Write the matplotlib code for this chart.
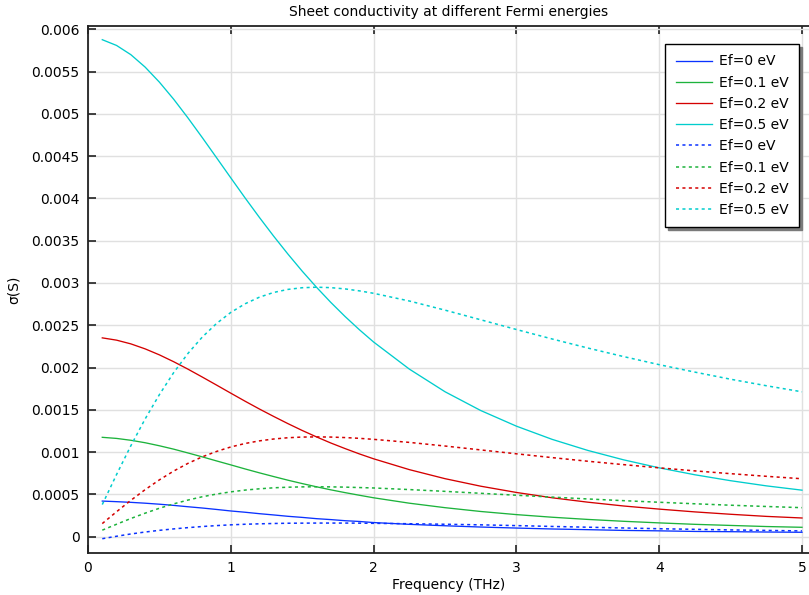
import numpy as np
import matplotlib
matplotlib.use("Agg")
import matplotlib.pyplot as plt

# frequency grid (THz)
freq = [0.1, 0.2, 0.3, 0.4, 0.5, 0.6, 0.7, 0.8, 0.9, 1.0, 1.1, 1.2, 1.3, 1.4, 1.5,
        1.6, 1.7, 1.8, 1.9, 2.0, 2.25, 2.5, 2.75, 3.0, 3.25, 3.5, 3.75, 4.0,
        4.25, 4.5, 4.75, 5.0]

# real part, mS
re_ef0 = [0.421, 0.414, 0.406, 0.396, 0.384, 0.370, 0.354, 0.339, 0.322, 0.304, 0.289,
          0.272, 0.257, 0.241, 0.228, 0.213, 0.202, 0.189, 0.180, 0.167, 0.146, 0.129,
          0.114, 0.102, 0.091, 0.083, 0.074, 0.069, 0.062, 0.059, 0.055, 0.052]
re_ef01 = [1.175, 1.162, 1.140, 1.111, 1.075, 1.035, 0.990, 0.944, 0.896, 0.849, 0.801,
           0.755, 0.711, 0.668, 0.628, 0.590, 0.554, 0.521, 0.490, 0.460, 0.396, 0.343,
           0.298, 0.261, 0.230, 0.204, 0.182, 0.163, 0.146, 0.133, 0.120, 0.111]
re_ef02 = [2.351, 2.324, 2.280, 2.221, 2.150, 2.069, 1.981, 1.888, 1.793, 1.697, 1.602,
           1.510, 1.422, 1.337, 1.256, 1.180, 1.108, 1.042, 0.979, 0.921, 0.793, 0.686,
           0.597, 0.523, 0.460, 0.408, 0.363, 0.326, 0.293, 0.265, 0.240, 0.221]
re_ef05 = [5.877, 5.809, 5.700, 5.553, 5.375, 5.173, 4.952, 4.720, 4.482, 4.243, 4.006,
           3.776, 3.554, 3.342, 3.140, 2.950, 2.771, 2.604, 2.448, 2.302, 1.982, 1.714,
           1.492, 1.307, 1.151, 1.020, 0.909, 0.814, 0.732, 0.662, 0.601, 0.550]

# imaginary part, mS
im_ef0 = [-0.024, 0.005, 0.032, 0.055, 0.075, 0.092, 0.107, 0.120, 0.131, 0.140, 0.147,
          0.152, 0.156, 0.159, 0.160, 0.161, 0.161, 0.161, 0.160, 0.158, 0.153, 0.147,
          0.140, 0.131, 0.121, 0.112, 0.103, 0.094, 0.087, 0.080, 0.074, 0.068]
im_ef01 = [0.077, 0.147, 0.215, 0.278, 0.336, 0.388, 0.433, 0.472, 0.504, 0.530, 0.551,
           0.566, 0.578, 0.585, 0.589, 0.590, 0.589, 0.586, 0.581, 0.576, 0.557, 0.536,
           0.513, 0.490, 0.468, 0.446, 0.426, 0.407, 0.389, 0.372, 0.357, 0.343]
im_ef02 = [0.155, 0.295, 0.430, 0.556, 0.672, 0.776, 0.867, 0.944, 1.008, 1.061, 1.102,
           1.133, 1.155, 1.170, 1.178, 1.180, 1.178, 1.172, 1.163, 1.151, 1.115, 1.072,
           1.026, 0.980, 0.935, 0.892, 0.852, 0.814, 0.778, 0.745, 0.714, 0.685]
im_ef05 = [0.380, 0.735, 1.075, 1.392, 1.680, 1.940, 2.167, 2.360, 2.521, 2.652, 2.754,
           2.832, 2.888, 2.924, 2.944, 2.950, 2.945, 2.930, 2.907, 2.878, 2.787, 2.679,
           2.565, 2.450, 2.338, 2.231, 2.130, 2.034, 1.946, 1.862, 1.785, 1.713]

labels = ['Ef=0 eV', 'Ef=0.1 eV', 'Ef=0.2 eV', 'Ef=0.5 eV']
colors = ['#0a32ff', '#1db33c', '#d40000', '#00cdcd']

xticks = [0, 1, 2, 3, 4, 5]
yticks = [0, 0.0005, 0.001, 0.0015, 0.002, 0.0025, 0.003, 0.0035, 0.004,
          0.0045, 0.005, 0.0055, 0.006]
ytick_labels = ['0', '0.0005', '0.001', '0.0015', '0.002', '0.0025', '0.003',
                '0.0035', '0.004', '0.0045', '0.005', '0.0055', '0.006']

W, H = 809, 595
fig = plt.figure(figsize=(W / 100, H / 100), dpi=100)
ax = fig.add_axes([88 / W, 42 / H, (W - 88) / W, (553 - 26) / H])

x = np.array(freq)
reais = [re_ef0, re_ef01, re_ef02, re_ef05]
imags = [im_ef0, im_ef01, im_ef02, im_ef05]

for serie, cor, lab in zip(reais, colors, labels):
    ax.plot(x, np.array(serie) * 1e-3, color=cor, lw=0.95, label=lab)
for serie, cor, lab in zip(imags, colors, labels):
    ax.plot(x, np.array(serie) * 1e-3, color=cor, lw=1.1,
            linestyle=(0, (2.0, 2.2)), label=lab)

ax.set_xlim(0, (W - 88) / 142.8)
ax.set_ylim(-0.000193, 0.006039)
ax.set_xticks(xticks)
ax.set_yticks(yticks)
ax.set_yticklabels(ytick_labels)
ax.tick_params(direction='in', length=5.5, width=1.2, labelsize=10,
               top=True, right=False, pad=6, colors='#222222', labelcolor='black')
ax.grid(True, color='#e0e0e0', lw=1.0)
ax.set_axisbelow(True)
for lado in ['left', 'bottom', 'top']:
    ax.spines[lado].set_linewidth(1.3)
    ax.spines[lado].set_color('#222222')
ax.spines['right'].set_visible(False)

ax.set_title('Sheet conductivity at different Fermi energies', fontsize=10, pad=7)
ax.set_xlabel('Frequency (THz)', fontsize=10, labelpad=2)
ax.set_ylabel('σ(S)', fontsize=10, labelpad=8)

leg = ax.legend(loc='upper right', bbox_to_anchor=(799 / W, 1 - 44 / H),
                bbox_transform=fig.transFigure, borderaxespad=0,
                fontsize=10, handlelength=2.6, handletextpad=0.5,
                labelspacing=0.52, borderpad=0.75, fancybox=False,
                shadow={'color': '#7a7a7a', 'alpha': 1}, framealpha=1)
leg.get_frame().set_edgecolor('black')
leg.get_frame().set_linewidth(1.0)

fig.savefig('out.png', dpi=100)
